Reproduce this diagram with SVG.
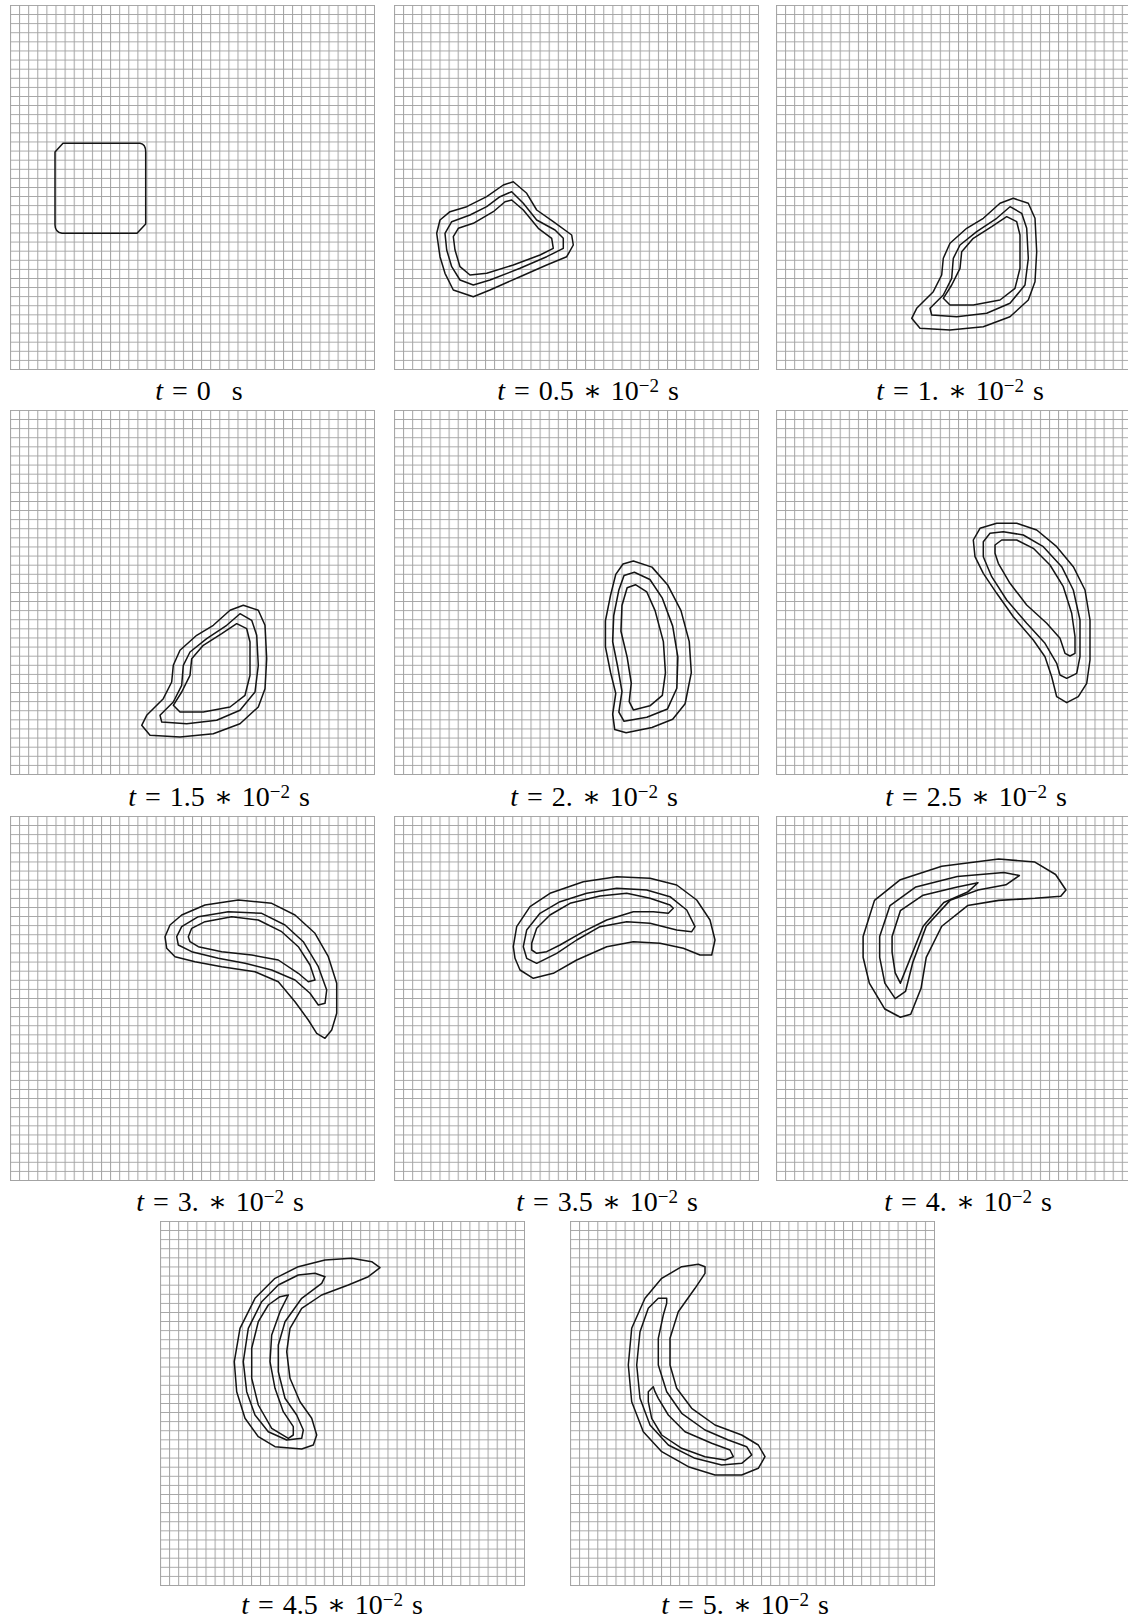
<svg xmlns="http://www.w3.org/2000/svg" xmlns:xlink="http://www.w3.org/1999/xlink" width="1128" height="1622" viewBox="0 0 1128 1622">
<style>
.c{fill:none;stroke:#141414;stroke-width:1.5;stroke-linejoin:round}
.edge{fill:none;stroke:#a3a3a3;stroke-width:1}
.lbl{font-family:"Liberation Serif","DejaVu Serif",serif;font-size:28px;fill:#000;text-anchor:middle;word-spacing:2px}
.it{font-style:italic}
.sup{font-size:19px}
</style>
<defs>
<pattern id="grid" width="9.1" height="9.1" patternUnits="userSpaceOnUse">
<path d="M0,0.5H9.1M0.5,0V9.1" stroke="#a3a3a3" stroke-width="1" fill="none"/>
</pattern>
<g id="panelgrid">
<rect x="0" y="0" width="364" height="364" fill="url(#grid)"/>
<path class="edge" d="M364.5,0V365M0,364.5H365"/>
</g>
</defs>
<rect width="1128" height="1622" fill="#fff"/>

<g id="grids">
<use href="#panelgrid" transform="translate(10,5)"/>
<use href="#panelgrid" transform="translate(394,5)"/>
<use href="#panelgrid" transform="translate(776,5)"/>
<use href="#panelgrid" transform="translate(10,410)"/>
<use href="#panelgrid" transform="translate(394,410)"/>
<use href="#panelgrid" transform="translate(776,410)"/>
<use href="#panelgrid" transform="translate(10,816)"/>
<use href="#panelgrid" transform="translate(394,816)"/>
<use href="#panelgrid" transform="translate(776,816)"/>
<use href="#panelgrid" transform="translate(160,1221)"/>
<use href="#panelgrid" transform="translate(570,1221)"/>
</g>

<g id="p1">
<path class="c" d="M63,143.3 H140 Q145.7,144 145.7,152 V224 L137,233.3 H62 Q55,232 55,225 V152 Z"/>
<text class="lbl" x="199" y="400"><tspan class="it">t</tspan> = 0<tspan dx="12"> s</tspan></text>
</g>

<g id="p2">
<path class="c" d="M513.3,181.7 L526.7,193.3 L536.7,210 L553.3,221.7 L571.7,235 L573.3,245 L566.7,256.7 L546.7,265 L520,276.7 L490,290 L473.3,296.7 L453.3,290 L445,273.3 L440,256.7 L436.7,233.3 L440,220 L450,211.7 L466.7,206.7 L486.7,196.7 L503.3,185 Z"/>
<path class="c" d="M511.7,191.7 L523.3,203.3 L536.7,220 L555,230 L563.3,238.3 L563.3,248.3 L546.7,256.7 L520,268.3 L490,280 L473.3,285 L460,280 L451.7,266.7 L446.7,250 L445,233.3 L451.7,221.7 L470,215 L486.7,206.7 L500,196.7 Z"/>
<path class="c" d="M511.7,200 L523.3,210 L538.3,228.3 L551.7,238.3 L553.3,248.3 L540,255 L513.3,265 L486.7,273.3 L470,275 L460,266.7 L455,250 L453.3,236.7 L458.3,228.3 L473.3,223.3 L493.3,211.7 L505,201.7 Z"/>
<text class="lbl" x="588" y="400"><tspan class="it">t</tspan> = 0.5 ∗ 10<tspan class="sup" dy="-8">−2</tspan><tspan dy="8"> s</tspan></text>
</g>

<g id="p3">
<g id="c3">
<path class="c" d="M1013.3,198.3 L1028.3,203.3 L1035,218.3 L1036.7,251.7 L1035,281.7 L1028.3,300 L1010,316.7 L983.3,326.7 L950,330 L920,328.3 L911.7,318.3 L916.7,308.3 L933.3,291.7 L941.7,275 L943.3,258.3 L950,243.3 L966.7,228.3 L983.3,218.3 L1000,203.3 Z"/>
<path class="c" d="M1010,206.7 L1021.7,213.3 L1026.7,228.3 L1028.3,258.3 L1025,285 L1010,303.3 L986.7,313.3 L956.7,316.7 L931.7,315 L930,308.3 L943.3,295 L951.7,278.3 L953.3,258.3 L960,245 L976.7,231.7 L996.7,218.3 Z"/>
<path class="c" d="M1006.7,216.7 L1016.7,221.7 L1020,235 L1020,268.3 L1015,288.3 L1000,300 L973.3,305 L950,305 L943.3,298.3 L951.7,285 L960,268.3 L961.7,251.7 L973.3,238.3 L991.7,226.7 Z"/>
</g>
<text class="lbl" x="960" y="400"><tspan class="it">t</tspan> = 1. ∗ 10<tspan class="sup" dy="-8">−2</tspan><tspan dy="8"> s</tspan></text>
</g>

<g id="p4">
<use href="#c3" transform="translate(-770,407)"/>
<text class="lbl" x="219" y="806"><tspan class="it">t</tspan> = 1.5 ∗ 10<tspan class="sup" dy="-8">−2</tspan><tspan dy="8"> s</tspan></text>
</g>

<g id="p5">
<g transform="scale(1.0349)">
<path class="c" d="M612,542 L630,548 L645,565 L658,590 L666,620 L668,650 L662,680 L650,695 L630,703 L605,708 L594,705 L592,690 L595,670 L590,650 L585,625 L585,600 L590,575 L595,555 L602,545 Z"/>
<path class="c" d="M613,553 L628,560 L640,578 L650,605 L655,635 L654,665 L645,685 L625,693 L603,697 L598,688 L601,668 L597,645 L592,620 L593,595 L598,570 L603,556 Z"/>
<path class="c" d="M614,565 L625,572 L633,590 L641,620 L643,650 L640,672 L628,682 L612,686 L608,678 L610,660 L606,635 L600,610 L601,585 L606,568 Z"/>
</g>
<text class="lbl" x="594" y="806"><tspan class="it">t</tspan> = 2. ∗ 10<tspan class="sup" dy="-8">−2</tspan><tspan dy="8"> s</tspan></text>
</g>

<g id="p6">
<path class="c" d="M973.3,540 L980,528.3 L996.7,523.3 L1016.7,523.3 L1036.7,530 L1056.7,546.7 L1073.3,566.7 L1085,590 L1090,620 L1090,660 L1086.7,683.3 L1078.3,696.7 L1066.7,702.7 L1056.7,696.7 L1051.7,676.7 L1045,656.7 L1033.3,640 L1013.3,616.7 L996.7,593.3 L983.3,573.3 L975,556.7 Z"/>
<path class="c" d="M983.3,541.7 L990,533.3 L1003.3,531.7 L1023.3,535 L1043.3,546.7 L1061.7,566.7 L1073.3,590 L1080,620 L1080,656.7 L1076.7,673.3 L1066.7,678.3 L1060,675 L1056.7,663.3 L1045,643.3 L1026.7,623.3 L1006.7,600 L991.7,576.7 L983.3,556.7 Z"/>
<path class="c" d="M995,545 L1001.7,540 L1016.7,540 L1033.3,548.3 L1050,565 L1063.3,586.7 L1071.7,613.3 L1075,636.7 L1075,653.3 L1070,656 L1065,653.3 L1060,638.3 L1046.7,623.3 L1026.7,605 L1010,583.3 L998.3,563.3 L995,553.3 Z"/>
<text class="lbl" x="976" y="806"><tspan class="it">t</tspan> = 2.5 ∗ 10<tspan class="sup" dy="-8">−2</tspan><tspan dy="8"> s</tspan></text>
</g>

<g id="p7">
<path class="c" d="M165,936.7 L170,925 L181.7,915 L205,905 L238.3,900 L271.7,903.3 L295,915 L315,933.3 L328.3,956.7 L336.7,983.3 L336.7,1013.3 L331.7,1030 L325,1038.3 L316.7,1033.3 L308.3,1020 L295,1001.7 L278.3,981.7 L255,971.7 L221.7,966.7 L195,961.7 L175,956.7 L166.7,948.3 Z"/>
<path class="c" d="M176.7,936.7 L181.7,926.7 L198.3,916.7 L228.3,911.7 L261.7,913.3 L285,925 L303.3,941.7 L318.3,966.7 L326.7,990 L325,1003.3 L318.3,1005 L310,993.3 L295,980 L271.7,970 L245,963.3 L218.3,958.3 L191.7,951.7 L178.3,945 Z"/>
<path class="c" d="M188.3,936.7 L191.7,928.3 L205,921.7 L231.7,916.7 L258.3,920 L281.7,931.7 L298.3,946.7 L310,965 L315,980 L308.3,981.7 L298.3,973.3 L278.3,960 L251.7,955 L221.7,951.7 L198.3,946.7 L190,941.7 Z"/>
<text class="lbl" x="220" y="1211"><tspan class="it">t</tspan> = 3. ∗ 10<tspan class="sup" dy="-8">−2</tspan><tspan dy="8"> s</tspan></text>
</g>

<g id="p8">
<path class="c" d="M513.3,946.7 L516.7,926.7 L530,906.7 L550,893.3 L583.3,881.7 L616.7,876.7 L650,878.3 L676.7,885 L696.7,900 L710,920 L715,940 L711.7,955 L700,955 L683.3,948.3 L660,943.3 L633.3,941.7 L606.7,946.7 L576.7,960 L553.3,973.3 L533.3,978.3 L520,970 L515,958.3 Z"/>
<path class="c" d="M523.3,946.7 L526.7,930 L540,913.3 L560,901.7 L586.7,893.3 L616.7,888.3 L646.7,890 L670,896.7 L686.7,910 L695,926.7 L691.7,931.7 L676.7,930 L650,923.3 L626.7,921.7 L600,926.7 L576.7,940 L556.7,953.3 L536.7,963.3 L526.7,958.3 Z"/>
<path class="c" d="M531.7,943.3 L536.7,928.3 L550,915 L570,903.3 L600,896 L626.7,893.3 L650,898.3 L670,905 L673.3,908.3 L668.3,913.3 L653.3,911.7 L633.3,911.7 L606.7,920 L583.3,931.7 L560,945 L546.7,951.7 L536.7,953.3 L531.7,950 Z"/>
<text class="lbl" x="607" y="1211"><tspan class="it">t</tspan> = 3.5 ∗ 10<tspan class="sup" dy="-8">−2</tspan><tspan dy="8"> s</tspan></text>
</g>

<g id="p9">
<g transform="scale(1.0349)">
<path class="c" d="M834,905 L845,870 L870,850 L910,837 L965,830 L1000,833 L1020,845 L1030,860 L1025,866 L1000,868 L965,870 L935,875 L910,895 L895,925 L890,955 L880,980 L870,983 L855,975 L840,950 L834,925 Z"/>
<path class="c" d="M850,905 L860,875 L885,857 L925,847 L970,843 L985,846 L972,855 L945,860 L918,870 L895,895 L882,930 L875,958 L865,965 L855,950 L850,925 Z"/>
<path class="c" d="M862,905 L870,880 L892,865 L925,857 L945,853 L935,862 L912,872 L892,895 L880,925 L870,950 L865,940 L862,920 Z"/>
</g>
<text class="lbl" x="968" y="1211"><tspan class="it">t</tspan> = 4. ∗ 10<tspan class="sup" dy="-8">−2</tspan><tspan dy="8"> s</tspan></text>
</g>

<g id="p10">
<path class="c" d="M380,1267.7 L371.7,1261.7 L351.7,1258.3 L325,1260 L298.3,1266.7 L275,1278.3 L255,1298.3 L240,1328.3 L234.3,1361.7 L236.7,1391.7 L245,1418.3 L258.3,1436.7 L275,1446.7 L301.7,1449 L313.3,1445 L316.7,1435 L311.7,1418.3 L300,1401.7 L290,1378.3 L286.7,1351.7 L290,1328.3 L301.7,1308.3 L321.7,1295 L348.3,1285 L368.3,1276.7 Z"/>
<path class="c" d="M325,1276.7 L315,1273.3 L298.3,1275 L278.3,1285 L261.7,1301.7 L248.3,1328.3 L243.3,1361.7 L246.7,1391.7 L255,1415 L268.3,1431.7 L286.7,1440 L301.7,1438.3 L303.3,1430 L296.7,1415 L285,1398.3 L278.3,1371.7 L278.3,1345 L285,1321.7 L301.7,1298.3 L321.7,1283.3 Z"/>
<path class="c" d="M288.3,1295 L280,1296.7 L268.3,1305 L258.3,1321.7 L251.7,1348.3 L251.7,1378.3 L258.3,1405 L271.7,1428.3 L288.3,1438.3 L293.3,1435 L293.3,1426.7 L283.3,1411.7 L275,1388.3 L270,1361.7 L271.7,1335 L280,1311.7 Z"/>
<text class="lbl" x="332" y="1614"><tspan class="it">t</tspan> = 4.5 ∗ 10<tspan class="sup" dy="-8">−2</tspan><tspan dy="8"> s</tspan></text>
</g>

<g id="p11">
<path class="c" d="M705,1266.7 L698.3,1264.3 L681.7,1266.7 L661.7,1278.3 L645,1298.3 L631.7,1328.3 L628.3,1365 L631.7,1401.7 L643.3,1431.7 L661.7,1451.7 L688.3,1466.7 L715,1475 L741.7,1475 L758.3,1468.3 L765,1456.7 L758.3,1445 L741.7,1435 L715,1425 L691.7,1408.3 L676.7,1388.3 L670,1365 L670,1338.3 L678.3,1311.7 L695,1288.3 L705,1273.3 Z"/>
<path class="c" d="M666.7,1298.3 L658.3,1298.3 L648.3,1308.3 L640,1331.7 L636.7,1365 L640,1398.3 L650,1425 L668.3,1445 L695,1458.3 L721.7,1465 L741.7,1463.3 L751.7,1455 L746.7,1446.7 L728.3,1440 L705,1430 L681.7,1413.3 L666.7,1391.7 L658.3,1365 L658.3,1338.3 L663.3,1315 L666.7,1303.3 Z"/>
<path class="c" d="M653.3,1386.7 L648.3,1391.7 L648.3,1401.7 L651.7,1418.3 L661.7,1435 L681.7,1448.3 L705,1456.7 L725,1460 L733.3,1456.7 L730,1450 L711.7,1443.3 L685,1431.7 L668.3,1415 L658.3,1398.3 L655,1391.7 Z"/>
<text class="lbl" x="745" y="1614"><tspan class="it">t</tspan> = 5. ∗ 10<tspan class="sup" dy="-8">−2</tspan><tspan dy="8"> s</tspan></text>
</g>
</svg>
